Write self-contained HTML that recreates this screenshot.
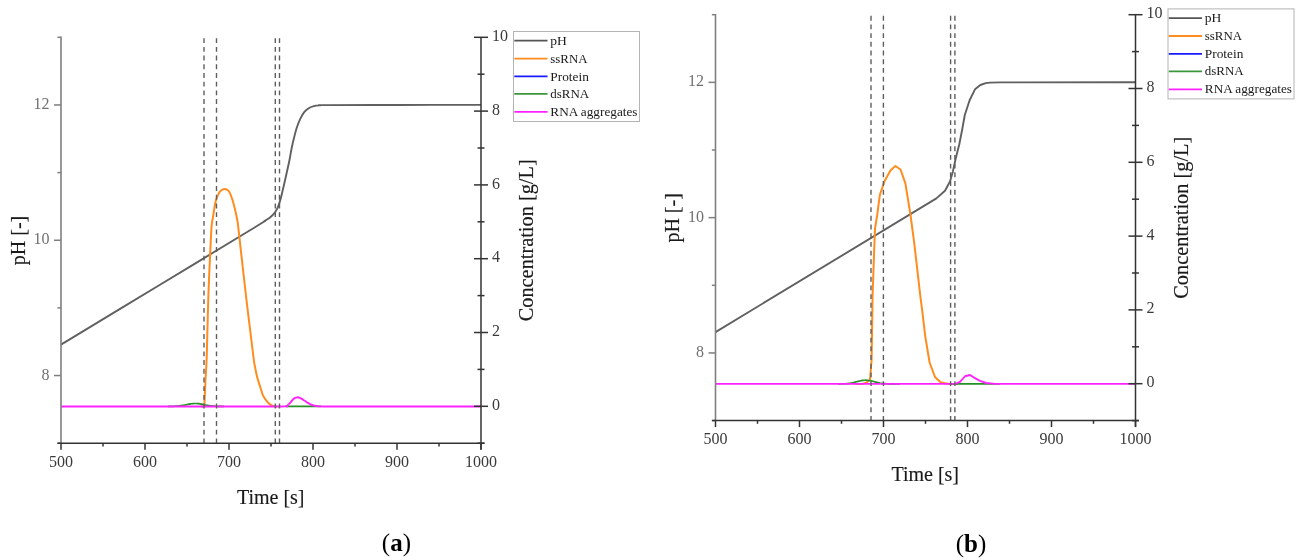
<!DOCTYPE html>
<html><head><meta charset="utf-8"><style>
html,body{margin:0;padding:0;background:#fff;}
body{width:1302px;height:560px;overflow:hidden;}
svg{display:block;font-family:"Liberation Serif", serif;will-change:transform;}
text{stroke-width:0.15px;}
</style></head><body>
<svg width="1302" height="560" viewBox="0 0 1302 560">
<rect width="100%" height="100%" fill="#fff"/>
<path d="M61,344.6 C77.5,334.62 127.67,304.25 160,284.7 C192.33,265.15 237.62,237.88 255,227.3 C272.38,216.72 261.8,222.85 264.3,221.2 C266.8,219.55 268.38,218.67 270,217.4 C271.62,216.13 272.8,215.05 274,213.6 C275.2,212.15 276.27,210.57 277.2,208.7 C278.13,206.83 278.88,204.6 279.6,202.4 C280.32,200.2 280.77,198.43 281.5,195.5 C282.23,192.57 283.13,188.58 284,184.8 C284.87,181.02 285.8,176.85 286.7,172.8 C287.6,168.75 288.58,164.55 289.4,160.5 C290.22,156.45 290.82,152.33 291.6,148.5 C292.38,144.67 293.2,141.08 294.1,137.5 C295,133.92 295.93,130.18 297,127 C298.07,123.82 299.27,120.92 300.5,118.4 C301.73,115.88 303.03,113.6 304.4,111.9 C305.77,110.2 307.12,109.17 308.7,108.2 C310.28,107.23 312.02,106.58 313.9,106.1 C315.78,105.62 317.98,105.47 320,105.3 C322.02,105.13 312.67,105.16 326,105.1 C339.33,105.04 374.17,104.98 400,104.95 C425.83,104.92 467.5,104.91 481,104.9" fill="none" stroke="#606060" stroke-width="1.9" stroke-linejoin="round"/>
<path d="M201,406.45 C201.47,406.45 203.23,406.81 203.8,406.45 C204.37,406.09 204.12,408.71 204.4,404.3 C204.68,399.89 205.1,388.22 205.5,380 C205.9,371.78 206.32,369.17 206.8,355 C207.28,340.83 207.67,315.5 208.4,295 C209.13,274.5 210.45,244.88 211.2,232 C211.95,219.12 212.38,221.57 212.9,217.7 C213.42,213.83 213.85,211.48 214.3,208.8 C214.75,206.12 215.08,203.68 215.6,201.6 C216.12,199.52 216.65,198 217.4,196.3 C218.15,194.6 218.9,192.62 220.1,191.4 C221.3,190.18 223.18,189.08 224.6,189 C226.02,188.92 227.49,189.68 228.6,190.9 C229.71,192.12 230.43,194.22 231.25,196.3 C232.07,198.38 232.76,200.72 233.5,203.4 C234.24,206.08 235.03,209.42 235.7,212.4 C236.37,215.38 236.98,218.03 237.5,221.3 C238.02,224.57 237.4,219.72 238.8,232 C240.2,244.28 243.5,274.5 245.9,295 C248.3,315.5 251.72,343.22 253.2,355 C254.68,366.78 254.17,362.13 254.8,365.7 C255.43,369.27 256.08,372.82 257,376.4 C257.92,379.98 259.28,383.98 260.3,387.2 C261.32,390.42 262,393.35 263.1,395.7 C264.2,398.05 265.7,399.82 266.9,401.3 C268.1,402.78 269.03,403.75 270.3,404.6 C271.57,405.45 273.38,406.09 274.5,406.4 C275.62,406.71 276.58,406.44 277,406.45" fill="none" stroke="#ff8c1e" stroke-width="2" stroke-linejoin="round"/>
<path d="M168,406.42 C168.23,406.42 168.93,406.41 169.4,406.41 C169.87,406.4 170.33,406.39 170.8,406.38 C171.27,406.37 171.73,406.36 172.2,406.35 C172.67,406.34 173.13,406.32 173.6,406.3 C174.07,406.28 174.53,406.26 175,406.24 C175.47,406.21 175.93,406.18 176.4,406.15 C176.87,406.11 177.33,406.08 177.8,406.03 C178.27,405.99 178.73,405.94 179.2,405.89 C179.67,405.84 180.13,405.78 180.6,405.71 C181.07,405.65 181.53,405.58 182,405.51 C182.47,405.43 182.93,405.36 183.4,405.27 C183.87,405.19 184.33,405.1 184.8,405.01 C185.27,404.93 185.73,404.83 186.2,404.74 C186.67,404.65 187.13,404.55 187.6,404.46 C188.07,404.37 188.53,404.28 189,404.2 C189.47,404.11 189.93,404.03 190.4,403.95 C190.87,403.88 191.33,403.81 191.8,403.75 C192.27,403.69 192.73,403.64 193.2,403.6 C193.67,403.56 194.13,403.53 194.6,403.52 C195.07,403.5 195.53,403.5 196,403.5 C196.47,403.51 196.93,403.53 197.4,403.57 C197.87,403.6 198.33,403.65 198.8,403.7 C199.27,403.76 199.73,403.83 200.2,403.9 C200.67,403.98 201.13,404.06 201.6,404.15 C202.07,404.24 202.53,404.33 203,404.43 C203.47,404.53 203.93,404.63 204.4,404.72 C204.87,404.82 205.33,404.92 205.8,405.01 C206.27,405.11 206.73,405.2 207.2,405.29 C207.67,405.37 208.13,405.46 208.6,405.53 C209.07,405.61 209.53,405.68 210,405.75 C210.47,405.81 210.93,405.87 211.4,405.93 C211.87,405.98 212.33,406.03 212.8,406.07 C213.27,406.11 213.73,406.15 214.2,406.18 C214.67,406.21 215.13,406.24 215.6,406.26 C216.07,406.29 216.53,406.31 217,406.33 C217.47,406.34 217.93,406.36 218.4,406.37 C218.87,406.38 219.33,406.39 219.8,406.4 C220.27,406.41 220.73,406.41 221.2,406.42 C221.67,406.42 222.13,406.43 222.6,406.43 C223.07,406.43 223.77,406.44 224,406.44" fill="none" stroke="#279027" stroke-width="1.7" stroke-linejoin="round"/>
<path d="M285.5,406.45 L321,406.45" fill="none" stroke="#279027" stroke-width="1.7" stroke-linejoin="round"/>
<path d="M61,406.45 C92.5,406.45 212.75,406.45 250,406.45 C287.25,406.45 278.4,406.51 284.5,406.45 C290.6,406.39 285.75,406.61 286.6,406.1 C287.45,405.59 288.58,404.46 289.6,403.4 C290.62,402.34 291.78,400.67 292.7,399.75 C293.62,398.83 294.33,398.31 295.1,397.9 C295.87,397.49 296.48,397.32 297.3,397.3 C298.12,397.28 299.03,397.4 300,397.8 C300.97,398.2 301.97,398.97 303.1,399.7 C304.23,400.43 305.57,401.42 306.8,402.2 C308.03,402.98 309.27,403.83 310.5,404.4 C311.73,404.97 312.77,405.28 314.2,405.6 C315.63,405.92 317.63,406.16 319.1,406.3 C320.57,406.44 316.18,406.43 323,406.45 C329.82,406.47 333.67,406.45 360,406.45 C386.33,406.45 460.83,406.45 481,406.45" fill="none" stroke="#ff22ff" stroke-width="1.85" stroke-linejoin="round"/>
<line x1="204" y1="38.2" x2="204" y2="443.2" stroke="#5e5e5e" stroke-width="1.4" stroke-dasharray="4.9 3.8"/>
<line x1="216.5" y1="38.2" x2="216.5" y2="443.2" stroke="#5e5e5e" stroke-width="1.4" stroke-dasharray="4.9 3.8"/>
<line x1="275.3" y1="38.2" x2="275.3" y2="443.2" stroke="#5e5e5e" stroke-width="1.4" stroke-dasharray="4.9 3.8"/>
<line x1="279.5" y1="38.2" x2="279.5" y2="443.2" stroke="#5e5e5e" stroke-width="1.4" stroke-dasharray="4.9 3.8"/>
<g transform="translate(0,0)">
<line x1="61" y1="36.6" x2="61" y2="443.2" stroke="#7f7f7f" stroke-width="1.6"/>
<line x1="57.4" y1="443.2" x2="61" y2="443.2" stroke="#7f7f7f" stroke-width="1.5"/>
<line x1="54" y1="375.55" x2="61" y2="375.55" stroke="#7f7f7f" stroke-width="1.5"/>
<text x="49.5" y="379.65" font-size="16" fill="#707070" text-anchor="end">8</text>
<line x1="57.4" y1="307.9" x2="61" y2="307.9" stroke="#7f7f7f" stroke-width="1.5"/>
<line x1="54" y1="240.25" x2="61" y2="240.25" stroke="#7f7f7f" stroke-width="1.5"/>
<text x="49.5" y="244.35" font-size="16" fill="#707070" text-anchor="end">10</text>
<line x1="57.4" y1="172.6" x2="61" y2="172.6" stroke="#7f7f7f" stroke-width="1.5"/>
<line x1="54" y1="104.95" x2="61" y2="104.95" stroke="#7f7f7f" stroke-width="1.5"/>
<text x="49.5" y="109.05" font-size="16" fill="#707070" text-anchor="end">12</text>
<line x1="57.4" y1="37.3" x2="61" y2="37.3" stroke="#7f7f7f" stroke-width="1.5"/>
<line x1="481" y1="37.3" x2="481" y2="449.7" stroke="#333" stroke-width="1.5"/>
<line x1="477.5" y1="443.2" x2="484.5" y2="443.2" stroke="#333" stroke-width="1.5"/>
<line x1="474" y1="406.3" x2="488" y2="406.3" stroke="#333" stroke-width="1.5"/>
<text x="492" y="409.9" font-size="16" fill="#3a3a3a">0</text>
<line x1="477.5" y1="369.4" x2="484.5" y2="369.4" stroke="#333" stroke-width="1.5"/>
<line x1="474" y1="332.5" x2="488" y2="332.5" stroke="#333" stroke-width="1.5"/>
<text x="492" y="336.1" font-size="16" fill="#3a3a3a">2</text>
<line x1="477.5" y1="295.6" x2="484.5" y2="295.6" stroke="#333" stroke-width="1.5"/>
<line x1="474" y1="258.7" x2="488" y2="258.7" stroke="#333" stroke-width="1.5"/>
<text x="492" y="262.3" font-size="16" fill="#3a3a3a">4</text>
<line x1="477.5" y1="221.8" x2="484.5" y2="221.8" stroke="#333" stroke-width="1.5"/>
<line x1="474" y1="184.9" x2="488" y2="184.9" stroke="#333" stroke-width="1.5"/>
<text x="492" y="188.5" font-size="16" fill="#3a3a3a">6</text>
<line x1="477.5" y1="148" x2="484.5" y2="148" stroke="#333" stroke-width="1.5"/>
<line x1="474" y1="111.1" x2="488" y2="111.1" stroke="#333" stroke-width="1.5"/>
<text x="492" y="114.7" font-size="16" fill="#3a3a3a">8</text>
<line x1="477.5" y1="74.2" x2="484.5" y2="74.2" stroke="#333" stroke-width="1.5"/>
<line x1="474" y1="37.3" x2="488" y2="37.3" stroke="#333" stroke-width="1.5"/>
<text x="492" y="40.9" font-size="16" fill="#3a3a3a">10</text>
<line x1="57.4" y1="443.2" x2="484.5" y2="443.2" stroke="#333" stroke-width="1.5"/>
<line x1="61" y1="443.2" x2="61" y2="449.7" stroke="#333" stroke-width="1.5"/>
<text x="61" y="466.7" font-size="16" fill="#3a3a3a" text-anchor="middle">500</text>
<line x1="103" y1="443.2" x2="103" y2="446.4" stroke="#333" stroke-width="1.5"/>
<line x1="145" y1="443.2" x2="145" y2="449.7" stroke="#333" stroke-width="1.5"/>
<text x="145" y="466.7" font-size="16" fill="#3a3a3a" text-anchor="middle">600</text>
<line x1="187" y1="443.2" x2="187" y2="446.4" stroke="#333" stroke-width="1.5"/>
<line x1="229" y1="443.2" x2="229" y2="449.7" stroke="#333" stroke-width="1.5"/>
<text x="229" y="466.7" font-size="16" fill="#3a3a3a" text-anchor="middle">700</text>
<line x1="271" y1="443.2" x2="271" y2="446.4" stroke="#333" stroke-width="1.5"/>
<line x1="313" y1="443.2" x2="313" y2="449.7" stroke="#333" stroke-width="1.5"/>
<text x="313" y="466.7" font-size="16" fill="#3a3a3a" text-anchor="middle">800</text>
<line x1="355" y1="443.2" x2="355" y2="446.4" stroke="#333" stroke-width="1.5"/>
<line x1="397" y1="443.2" x2="397" y2="449.7" stroke="#333" stroke-width="1.5"/>
<text x="397" y="466.7" font-size="16" fill="#3a3a3a" text-anchor="middle">900</text>
<line x1="439" y1="443.2" x2="439" y2="446.4" stroke="#333" stroke-width="1.5"/>
<line x1="481" y1="443.2" x2="481" y2="449.7" stroke="#333" stroke-width="1.5"/>
<text x="481" y="466.7" font-size="16" fill="#3a3a3a" text-anchor="middle">1000</text>
<text x="270.7" y="503.6" font-size="20" fill="#1a1a1a" stroke="#1a1a1a" text-anchor="middle">Time [s]</text>
<text transform="translate(24.6,240.5) rotate(-90)" font-size="20" fill="#1a1a1a" stroke="#1a1a1a" text-anchor="middle">pH [-]</text>
<text transform="translate(533.2,240.3) rotate(-90)" font-size="20" fill="#1a1a1a" stroke="#1a1a1a" text-anchor="middle" textLength="162" lengthAdjust="spacingAndGlyphs">Concentration [g/L]</text>
<rect x="513.5" y="31.5" width="126" height="90" fill="#fff" stroke="#b4b4b4" stroke-width="1"/>
<line x1="514.3" y1="40.7" x2="547.5" y2="40.7" stroke="#555" stroke-width="1.8"/>
<text x="550.3" y="44.8" font-size="12.4" fill="#1a1a1a" textLength="16.6" lengthAdjust="spacingAndGlyphs">pH</text>
<line x1="514.3" y1="58.6" x2="547.5" y2="58.6" stroke="#ff8c1e" stroke-width="1.8"/>
<text x="550.3" y="62.7" font-size="12.4" fill="#1a1a1a" textLength="37.2" lengthAdjust="spacingAndGlyphs">ssRNA</text>
<line x1="514.3" y1="76.4" x2="547.5" y2="76.4" stroke="#1a1aff" stroke-width="1.8"/>
<text x="550.3" y="80.5" font-size="12.4" fill="#1a1a1a" textLength="38.6" lengthAdjust="spacingAndGlyphs">Protein</text>
<line x1="514.3" y1="93.9" x2="547.5" y2="93.9" stroke="#3c963c" stroke-width="1.8"/>
<text x="550.3" y="98" font-size="12.4" fill="#1a1a1a" textLength="38.9" lengthAdjust="spacingAndGlyphs">dsRNA</text>
<line x1="514.3" y1="111.9" x2="547.5" y2="111.9" stroke="#ff22ff" stroke-width="1.8"/>
<text x="550.3" y="116" font-size="12.4" fill="#1a1a1a" textLength="87.2" lengthAdjust="spacingAndGlyphs">RNA aggregates</text>
</g>
<path d="M715.5,332.1 L936.4,198.4 L945,190.7 L950,181.4 L952.9,171.4 L955.7,158.6 L959.3,144.3 L962.1,130 L964.8,115 L969.7,100 L975,89.3 L980.4,85 L985.7,83.1 L990,82.6 L1000,82.4 L1135.5,82.3" fill="none" stroke="#606060" stroke-width="1.9" stroke-linejoin="round"/>
<path d="M855,383.9 L862,383.9 L866.25,382.8 L870,379.7 L871.6,360 L872.6,295 L873.9,257.9 L875,228.6 L877.2,215 L879.9,194.7 L884.5,181.3 L890.4,170.5 L895.4,166 L900.5,169.5 L905.4,183.4 L910.5,215 L914.3,243.6 L920.2,295 L922.5,312.9 L925.2,336 L929.6,362.5 L935,377 L940.5,382.2 L945,383.2 L950,383.9 L958,383.9" fill="none" stroke="#ff8c1e" stroke-width="2" stroke-linejoin="round"/>
<path d="M838,383.88 L839.55,383.87 L841.1,383.84 L842.65,383.8 L844.2,383.74 L845.75,383.66 L847.3,383.54 L848.85,383.37 L850.4,383.15 L851.95,382.88 L853.5,382.56 L855.05,382.19 L856.6,381.79 L858.15,381.38 L859.7,380.99 L861.25,380.65 L862.8,380.4 L864.35,380.24 L865.9,380.2 L867.45,380.29 L869,380.48 L870.55,380.78 L872.1,381.14 L873.65,381.54 L875.2,381.94 L876.75,382.33 L878.3,382.69 L879.85,382.99 L881.4,383.24 L882.95,383.44 L884.5,383.59 L886.05,383.7 L887.6,383.77 L889.15,383.82 L890.7,383.85 L892.25,383.87 L893.8,383.88 L895.35,383.89 L896.9,383.9 L898.45,383.9 L900,383.9" fill="none" stroke="#279027" stroke-width="1.7" stroke-linejoin="round"/>
<path d="M950,383.9 L1000,383.9" fill="none" stroke="#279027" stroke-width="1.7" stroke-linejoin="round"/>
<path d="M715.5,383.9 L955,383.9 L960,381.9 L965,376.25 L970,375 L975,378.1 L980,380.9 L986.25,383 L995,383.9 L1135.5,383.9" fill="none" stroke="#ff22ff" stroke-width="1.85" stroke-linejoin="round"/>
<line x1="871" y1="15.75" x2="871" y2="420.6" stroke="#5e5e5e" stroke-width="1.4" stroke-dasharray="4.9 3.8"/>
<line x1="883.4" y1="15.75" x2="883.4" y2="420.6" stroke="#5e5e5e" stroke-width="1.4" stroke-dasharray="4.9 3.8"/>
<line x1="950.6" y1="15.75" x2="950.6" y2="420.6" stroke="#5e5e5e" stroke-width="1.4" stroke-dasharray="4.9 3.8"/>
<line x1="954.9" y1="15.75" x2="954.9" y2="420.6" stroke="#5e5e5e" stroke-width="1.4" stroke-dasharray="4.9 3.8"/>
<g transform="translate(654.5,-22.6)">
<line x1="61" y1="36.6" x2="61" y2="443.2" stroke="#7f7f7f" stroke-width="1.6"/>
<line x1="57.4" y1="443.2" x2="61" y2="443.2" stroke="#7f7f7f" stroke-width="1.5"/>
<line x1="54" y1="375.55" x2="61" y2="375.55" stroke="#7f7f7f" stroke-width="1.5"/>
<text x="49.5" y="379.65" font-size="16" fill="#707070" text-anchor="end">8</text>
<line x1="57.4" y1="307.9" x2="61" y2="307.9" stroke="#7f7f7f" stroke-width="1.5"/>
<line x1="54" y1="240.25" x2="61" y2="240.25" stroke="#7f7f7f" stroke-width="1.5"/>
<text x="49.5" y="244.35" font-size="16" fill="#707070" text-anchor="end">10</text>
<line x1="57.4" y1="172.6" x2="61" y2="172.6" stroke="#7f7f7f" stroke-width="1.5"/>
<line x1="54" y1="104.95" x2="61" y2="104.95" stroke="#7f7f7f" stroke-width="1.5"/>
<text x="49.5" y="109.05" font-size="16" fill="#707070" text-anchor="end">12</text>
<line x1="57.4" y1="37.3" x2="61" y2="37.3" stroke="#7f7f7f" stroke-width="1.5"/>
<line x1="481" y1="37.3" x2="481" y2="449.7" stroke="#333" stroke-width="1.5"/>
<line x1="477.5" y1="443.2" x2="484.5" y2="443.2" stroke="#333" stroke-width="1.5"/>
<line x1="474" y1="406.3" x2="488" y2="406.3" stroke="#333" stroke-width="1.5"/>
<text x="492" y="409.9" font-size="16" fill="#3a3a3a">0</text>
<line x1="477.5" y1="369.4" x2="484.5" y2="369.4" stroke="#333" stroke-width="1.5"/>
<line x1="474" y1="332.5" x2="488" y2="332.5" stroke="#333" stroke-width="1.5"/>
<text x="492" y="336.1" font-size="16" fill="#3a3a3a">2</text>
<line x1="477.5" y1="295.6" x2="484.5" y2="295.6" stroke="#333" stroke-width="1.5"/>
<line x1="474" y1="258.7" x2="488" y2="258.7" stroke="#333" stroke-width="1.5"/>
<text x="492" y="262.3" font-size="16" fill="#3a3a3a">4</text>
<line x1="477.5" y1="221.8" x2="484.5" y2="221.8" stroke="#333" stroke-width="1.5"/>
<line x1="474" y1="184.9" x2="488" y2="184.9" stroke="#333" stroke-width="1.5"/>
<text x="492" y="188.5" font-size="16" fill="#3a3a3a">6</text>
<line x1="477.5" y1="148" x2="484.5" y2="148" stroke="#333" stroke-width="1.5"/>
<line x1="474" y1="111.1" x2="488" y2="111.1" stroke="#333" stroke-width="1.5"/>
<text x="492" y="114.7" font-size="16" fill="#3a3a3a">8</text>
<line x1="477.5" y1="74.2" x2="484.5" y2="74.2" stroke="#333" stroke-width="1.5"/>
<line x1="474" y1="37.3" x2="488" y2="37.3" stroke="#333" stroke-width="1.5"/>
<text x="492" y="40.9" font-size="16" fill="#3a3a3a">10</text>
<line x1="57.4" y1="443.2" x2="484.5" y2="443.2" stroke="#333" stroke-width="1.5"/>
<line x1="61" y1="443.2" x2="61" y2="449.7" stroke="#333" stroke-width="1.5"/>
<text x="61" y="466.7" font-size="16" fill="#3a3a3a" text-anchor="middle">500</text>
<line x1="103" y1="443.2" x2="103" y2="446.4" stroke="#333" stroke-width="1.5"/>
<line x1="145" y1="443.2" x2="145" y2="449.7" stroke="#333" stroke-width="1.5"/>
<text x="145" y="466.7" font-size="16" fill="#3a3a3a" text-anchor="middle">600</text>
<line x1="187" y1="443.2" x2="187" y2="446.4" stroke="#333" stroke-width="1.5"/>
<line x1="229" y1="443.2" x2="229" y2="449.7" stroke="#333" stroke-width="1.5"/>
<text x="229" y="466.7" font-size="16" fill="#3a3a3a" text-anchor="middle">700</text>
<line x1="271" y1="443.2" x2="271" y2="446.4" stroke="#333" stroke-width="1.5"/>
<line x1="313" y1="443.2" x2="313" y2="449.7" stroke="#333" stroke-width="1.5"/>
<text x="313" y="466.7" font-size="16" fill="#3a3a3a" text-anchor="middle">800</text>
<line x1="355" y1="443.2" x2="355" y2="446.4" stroke="#333" stroke-width="1.5"/>
<line x1="397" y1="443.2" x2="397" y2="449.7" stroke="#333" stroke-width="1.5"/>
<text x="397" y="466.7" font-size="16" fill="#3a3a3a" text-anchor="middle">900</text>
<line x1="439" y1="443.2" x2="439" y2="446.4" stroke="#333" stroke-width="1.5"/>
<line x1="481" y1="443.2" x2="481" y2="449.7" stroke="#333" stroke-width="1.5"/>
<text x="481" y="466.7" font-size="16" fill="#3a3a3a" text-anchor="middle">1000</text>
<text x="270.7" y="503.6" font-size="20" fill="#1a1a1a" stroke="#1a1a1a" text-anchor="middle">Time [s]</text>
<text transform="translate(24.6,240.5) rotate(-90)" font-size="20" fill="#1a1a1a" stroke="#1a1a1a" text-anchor="middle">pH [-]</text>
<text transform="translate(533.2,240.3) rotate(-90)" font-size="20" fill="#1a1a1a" stroke="#1a1a1a" text-anchor="middle" textLength="162" lengthAdjust="spacingAndGlyphs">Concentration [g/L]</text>
<rect x="513.5" y="31.5" width="126" height="90" fill="#fff" stroke="#b4b4b4" stroke-width="1"/>
<line x1="514.3" y1="40.7" x2="547.5" y2="40.7" stroke="#555" stroke-width="1.8"/>
<text x="550.3" y="44.8" font-size="12.4" fill="#1a1a1a" textLength="16.6" lengthAdjust="spacingAndGlyphs">pH</text>
<line x1="514.3" y1="58.6" x2="547.5" y2="58.6" stroke="#ff8c1e" stroke-width="1.8"/>
<text x="550.3" y="62.7" font-size="12.4" fill="#1a1a1a" textLength="37.2" lengthAdjust="spacingAndGlyphs">ssRNA</text>
<line x1="514.3" y1="76.4" x2="547.5" y2="76.4" stroke="#1a1aff" stroke-width="1.8"/>
<text x="550.3" y="80.5" font-size="12.4" fill="#1a1a1a" textLength="38.6" lengthAdjust="spacingAndGlyphs">Protein</text>
<line x1="514.3" y1="93.9" x2="547.5" y2="93.9" stroke="#3c963c" stroke-width="1.8"/>
<text x="550.3" y="98" font-size="12.4" fill="#1a1a1a" textLength="38.9" lengthAdjust="spacingAndGlyphs">dsRNA</text>
<line x1="514.3" y1="111.9" x2="547.5" y2="111.9" stroke="#ff22ff" stroke-width="1.8"/>
<text x="550.3" y="116" font-size="12.4" fill="#1a1a1a" textLength="87.2" lengthAdjust="spacingAndGlyphs">RNA aggregates</text>
</g>
<text x="396.4" y="550.5" font-size="25" fill="#000" text-anchor="middle">(<tspan font-weight="bold">a</tspan>)</text>
<text x="971" y="551.9" font-size="25" fill="#000" text-anchor="middle">(<tspan font-weight="bold">b</tspan>)</text>
</svg>
</body></html>
